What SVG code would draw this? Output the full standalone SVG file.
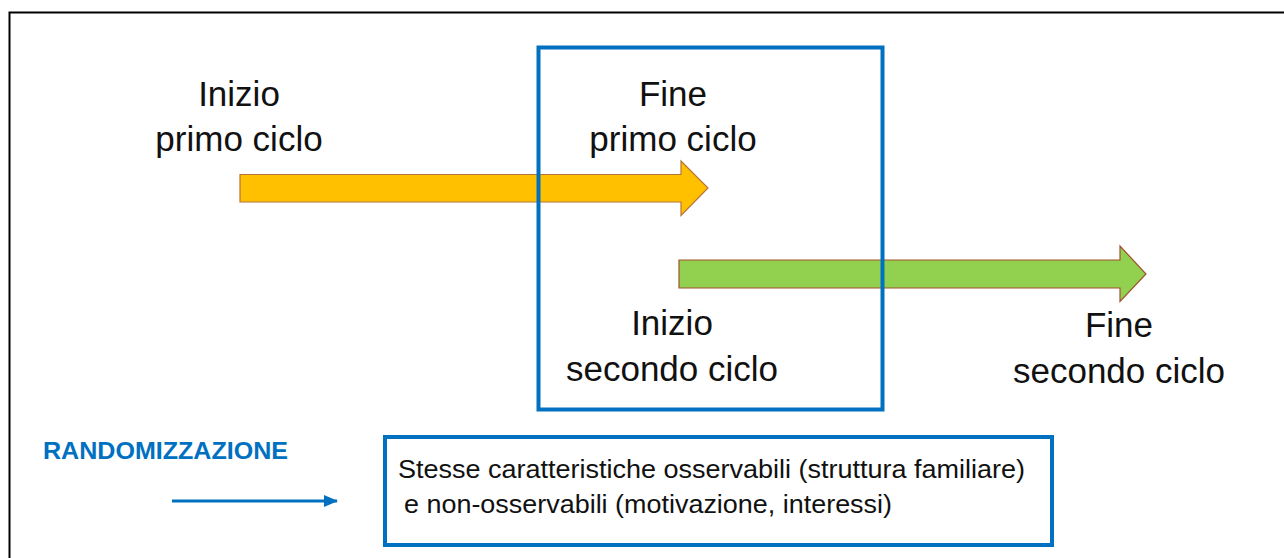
<svg xmlns="http://www.w3.org/2000/svg" width="1284" height="558" viewBox="0 0 1284 558">
<defs>
<style>
.lbl{font-family:"Liberation Sans",Arial,sans-serif;font-size:35px;fill:#111;text-anchor:middle}
.box{fill:none;stroke:#0070C0;stroke-width:4}
.small{font-family:"Liberation Sans",Arial,sans-serif;font-size:25px;fill:#111}
.rand{font-family:"Liberation Sans",Arial,sans-serif;font-size:23px;font-weight:bold;fill:#0070C0}
</style>
<marker id="ah" markerWidth="14" markerHeight="12" refX="13" refY="6" orient="auto" markerUnits="userSpaceOnUse">
<path d="M0,0 L14,6 L0,12 Z" fill="#0070C0"/>
</marker>
</defs>
<rect width="1284" height="558" fill="#fff"/>
<path d="M9.5,558 V12.5 H1284" fill="none" stroke="#000" stroke-width="2"/>
<g id="arrow-primo">
<path d="M240,174.5 H681 V161 L708,188 L681,215.5 V202 H240 Z" fill="#FFC000" stroke="#B8733A" stroke-width="1.2"/>
</g>
<g id="arrow-secondo">
<path d="M679,260 H1120 V246 L1146,274 L1120,301.5 V288 H679 Z" fill="#92D050" stroke="#A0522D" stroke-width="1.2"/>
</g>
<g id="focus-box">
<rect class="box" x="538.5" y="47.5" width="344" height="362"/>
</g>
<g id="label-inizio-primo">
<text class="lbl" x="239" y="106">Inizio</text>
<text class="lbl" x="239" y="151">primo ciclo</text>
</g>
<g id="label-fine-primo">
<text class="lbl" x="673" y="106">Fine</text>
<text class="lbl" x="673" y="151">primo ciclo</text>
</g>
<g id="label-inizio-secondo">
<text class="lbl" x="672" y="335">Inizio</text>
<text class="lbl" x="672" y="381">secondo ciclo</text>
</g>
<g id="label-fine-secondo">
<text class="lbl" x="1119" y="337">Fine</text>
<text class="lbl" x="1119" y="383">secondo ciclo</text>
</g>
<g id="randomizzazione">
<text class="rand" x="43" y="459" textLength="245" lengthAdjust="spacingAndGlyphs">RANDOMIZZAZIONE</text>
</g>
<g id="connectors">
<line x1="172" y1="501" x2="337" y2="501" stroke="#0070C0" stroke-width="3" marker-end="url(#ah)"/>
</g>
<g id="result-box">
<rect class="box" x="385" y="437" width="667" height="108"/>
<text class="small" x="398" y="478" textLength="627" lengthAdjust="spacingAndGlyphs">Stesse caratteristiche osservabili (struttura familiare)</text>
<text class="small" x="404" y="512.5" textLength="488" lengthAdjust="spacingAndGlyphs">e non-osservabili (motivazione, interessi)</text>
</g>
</svg>
